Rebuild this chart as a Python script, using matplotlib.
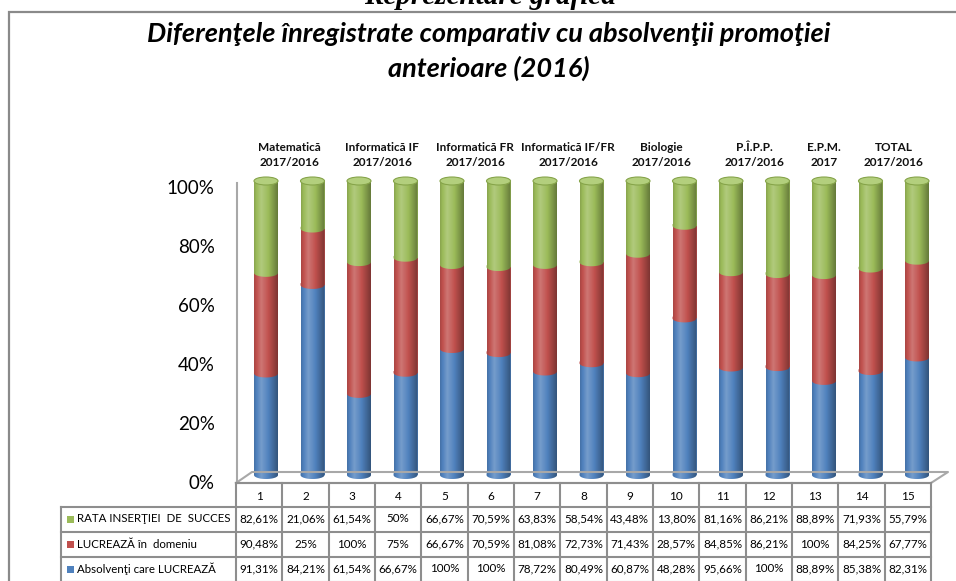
import numpy as np
import matplotlib
matplotlib.use("Agg")
import matplotlib.pyplot as plt
from matplotlib.patches import Ellipse, Polygon, Rectangle
from matplotlib.lines import Line2D

# ---------------- data ----------------
columns = [str(i) for i in range(1, 16)]
series_names = ["Absolvenţi care LUCREAZĂ", "LUCREAZĂ în  domeniu", "RATA INSERŢIEI  DE  SUCCES"]
absolventi = [91.31, 84.21, 61.54, 66.67, 100, 100, 78.72, 80.49, 60.87, 48.28, 95.66, 100, 88.89, 85.38, 82.31]
domeniu = [90.48, 25, 100, 75, 66.67, 70.59, 81.08, 72.73, 71.43, 28.57, 84.85, 86.21, 100, 84.25, 67.77]
rata = [82.61, 21.06, 61.54, 50, 66.67, 70.59, 63.83, 58.54, 43.48, 13.80, 81.16, 86.21, 88.89, 71.93, 55.79]
group_labels = ["Matematică\n2017/2016", "Informatică IF\n2017/2016", "Informatică FR\n2017/2016",
                "Informatică IF/FR\n2017/2016", "Biologie\n2017/2016", "P.Î.P.P.\n2017/2016",
                "E.P.M.\n2017", "TOTAL\n2017/2016"]
group_members = [[1, 2], [3, 4], [5, 6], [7, 8], [9, 10], [11, 12], [13], [14, 15]]
yticks = [0, 20, 40, 60, 80, 100]
ytick_labels = ["0%", "20%", "40%", "60%", "80%", "100%"]
title_lines = ["Diferenţele înregistrate comparativ cu absolvenţii promoţiei", "anterioare (2016)"]
doc_heading = "Reprezentare grafică"

colors = ["#4F81BD", "#C0504D", "#9BBB59"]
cap_color = "#B3CF7D"
cap_edge = "#86A44A"
grid_gray = "#8E8E8E"
SANS = ["Lato", "DejaVu Sans"]

W, H = 956, 581
fig = plt.figure(figsize=(W / 100, H / 100), dpi=100)
fig.patch.set_facecolor("white")


def fx(x):
    return x / W


def fy(y):
    return 1 - y / H


# outer frame (extends beyond right/bottom edge)
fig.add_artist(Rectangle((fx(9), fy(600)), fx(970 - 9), (600 - 12) / H, transform=fig.transFigure,
                         facecolor="none", edgecolor="#8A8A8A", lw=1.6, zorder=1))
# heading cut at top
fig.text(fx(490), fy(4), doc_heading, ha="center", va="baseline", fontsize=21,
         family="Liberation Serif", fontweight="bold", style="italic", zorder=0)

# title
fig.text(fx(489), fy(34), title_lines[0], ha="center", va="center", fontsize=19.5,
         family=SANS, fontweight="bold", style="italic")
fig.text(fx(489), fy(68), title_lines[1], ha="center", va="center", fontsize=19.5,
         family=SANS, fontweight="bold", style="italic")

# ---------------- main bars axes ----------------
ppu = (475 - 181) / 100.0
y_lo, y_hi = -5, 105
ax_top = 181 - (y_hi - 100) * ppu
ax_bot = 475 + (0 - y_lo) * ppu
spacing = 46.5
ax_left = 266 - spacing / 2
ax_right = ax_left + spacing * 15
ax = fig.add_axes([fx(ax_left), fy(ax_bot), (ax_right - ax_left) / W, (ax_bot - ax_top) / H])
ax.set_xlim(0.5, 15.5)
ax.set_ylim(y_lo, y_hi)
ax.axis("off")

x = np.arange(1, 16)
vals = np.array([absolventi, domeniu, rata], dtype=float)
perc = vals / vals.sum(axis=0) * 100
bw = 24 / spacing
eh = 8 / ppu

# floor and left wall (figure pixel coords)
floor_pts = [(236, 483), (931, 483), (948, 472), (252, 472), (236, 483)]
fig.add_artist(Line2D([fx(p[0]) for p in floor_pts], [fy(p[1]) for p in floor_pts],
                      transform=fig.transFigure, color="#A8A8A8", lw=1.5, zorder=0.5))
fig.add_artist(Line2D([fx(237), fx(237)], [fy(183), fy(483)], transform=fig.transFigure,
                      color="#A8A8A8", lw=1.5, zorder=0.5))

bottoms = np.zeros(15)
for k in range(3):
    ax.bar(x, perc[k], bottom=bottoms, width=bw, color=colors[k], linewidth=0, zorder=2)
    bottoms = bottoms + perc[k]

# curved boundaries (bottom edge of each segment)
th = np.linspace(np.pi, 2 * np.pi, 40)
for i in range(15):
    cum = 0.0
    for k in range(3):
        cx = x[i]
        pts = np.column_stack([cx + bw / 2 * np.cos(th), cum + eh / 2 * np.sin(th)])
        pts = np.vstack([pts, [cx + bw / 2, cum + 0.6], [cx - bw / 2, cum + 0.6]])
        ax.add_patch(Polygon(pts, closed=True, facecolor=colors[k], edgecolor="none", zorder=2.1))
        cum += perc[k][i]

# cylindrical shading
tt = np.linspace(0, 1, 64)
shade = np.zeros((1, 64, 4))
lum = np.interp(tt, [0, 0.3, 0.55, 1.0], [-0.12, 0.22, 0.05, -0.35])
shade[0, :, :3] = np.where(lum[:, None] > 0, 1.0, 0.0)
shade[0, :, 3] = np.abs(lum)
for i in range(15):
    cx = x[i]
    bot_th = np.linspace(np.pi, 2 * np.pi, 40)
    top_th = np.linspace(0, np.pi, 40)
    sil = np.vstack([
        np.column_stack([cx + bw / 2 * np.cos(bot_th), eh / 2 * np.sin(bot_th)]),
        np.column_stack([cx + bw / 2 * np.cos(top_th), 100 + eh / 2 * np.sin(top_th)]),
    ])
    clip = Polygon(sil, closed=True, facecolor="none", edgecolor="none", transform=ax.transData)
    ax.add_patch(clip)
    im = ax.imshow(shade, extent=[cx - bw / 2, cx + bw / 2, -eh, 100 + eh], aspect="auto",
                   interpolation="bilinear", zorder=2.5)
    im.set_clip_path(clip)
    ax.add_patch(Ellipse((cx, 100), bw, eh, facecolor=cap_color, edgecolor=cap_edge, lw=0.8, zorder=3))
ax.set_xlim(0.5, 15.5)
ax.set_ylim(y_lo, y_hi)

# group labels
for lab, mem in zip(group_labels, group_members):
    xm = np.mean(mem)
    xpix = ax_left + (xm - 0.5) * spacing
    fig.text(fx(xpix), fy(155), lab, ha="center", va="center", fontsize=8.5, fontweight="bold",
             family=SANS, linespacing=1.45, color="#111111")

# ---------------- y tick labels axes ----------------
lab_ax = fig.add_axes([fx(237), fy(482), 0.001, (482 - 187) / H])
lab_ax.set_ylim(0, 100)
lab_ax.set_yticks(yticks)
lab_ax.set_yticklabels(ytick_labels, fontsize=13.5, family=SANS)
lab_ax.tick_params(axis="y", length=0, pad=16)
lab_ax.set_xticks([])
for s in lab_ax.spines.values():
    s.set_visible(False)
lab_ax.patch.set_alpha(0)

# ---------------- data table ----------------
tl, cw = 236, (931 - 236) / 15
row_tops = [483, 507, 532, 557, 582]
hdr_left = 61
lw_t = 1.5


def hline(y, x0, x1):
    fig.add_artist(Line2D([fx(x0), fx(x1)], [fy(y), fy(y)], transform=fig.transFigure,
                          color=grid_gray, lw=lw_t, zorder=4))


def vline(x_, y0, y1):
    fig.add_artist(Line2D([fx(x_), fx(x_)], [fy(y0), fy(y1)], transform=fig.transFigure,
                          color=grid_gray, lw=lw_t, zorder=4))


hline(row_tops[0], tl, tl + 15 * cw)
for y in row_tops[1:]:
    hline(y, hdr_left, tl + 15 * cw)
for j in range(16):
    vline(tl + j * cw, row_tops[0], 590)
vline(hdr_left, row_tops[1], 590)


def fmt(v):
    if float(v).is_integer():
        return "%d%%" % int(v)
    return ("%.2f%%" % v).replace(".", ",")


for j, c in enumerate(columns):
    fig.text(fx(tl + (j + 0.5) * cw), fy(496), c, ha="center", va="center", fontsize=8.5, family=SANS)

table_rows = [(series_names[2], rata, colors[2]), (series_names[1], domeniu, colors[1]),
              (series_names[0], absolventi, colors[0])]
for r, (name, data, col) in enumerate(table_rows):
    yc = (row_tops[r + 1] + row_tops[r + 2]) / 2 - 0.5
    fig.add_artist(Rectangle((fx(66.5), fy(yc + 3.5)), 7 / W, 7 / H, transform=fig.transFigure,
                             facecolor=col, edgecolor="none", zorder=5))
    fig.text(fx(77), fy(yc), name, ha="left", va="center", fontsize=8.3, family=SANS)
    for j, v in enumerate(data):
        fig.text(fx(tl + (j + 0.5) * cw), fy(yc), fmt(v), ha="center", va="center",
                 fontsize=8.4, family=SANS)

fig.savefig("out.png", dpi=100, facecolor="white")
